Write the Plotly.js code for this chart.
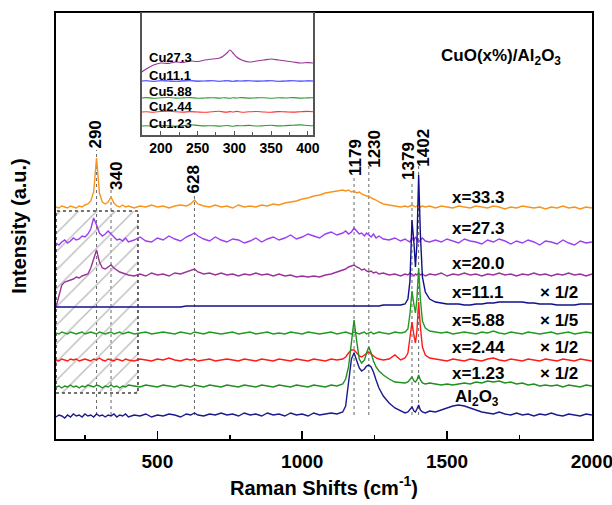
<!DOCTYPE html>
<html><head><meta charset="utf-8">
<script src="https://cdn.plot.ly/plotly-3.0.1.min.js"></script>
<style>body{margin:0;background:#fff}#chart{width:612px;height:505px}</style>
</head><body><div id="chart"></div>
<script>
// ---------- DATA ----------
const ramanShift = [150,160,170,180,190,200,210,220,230,240,250,260,270,280,290,300,310,320,330,340,350,360,370,380,390,400,
420,440,460,480,500,520,540,560,580,600,615,628,640,
660,680,700,720,740,760,780,800,820,840,860,880,900,920,940,960,980,1000,1020,1040,1060,1080,1100,1120,1140,
1150,1160,1170,1179,1188,1197,1205,1215,1222,1230,1238,1246,1255,1265,1280,1300,1320,1340,
1355,1365,1372,1379,1386,1391,1396,1402,1408,1415,1425,1440,
1460,1480,1500,1520,1540,1560,1580,1600,1620,1640,1660,1680,1700,1720,1740,1760,1780,1800,1820,1840,1860,1880,1900,1920,1940,1960,1980,2000];

const cu33_3 = [232,231,233,232,231,233,232,231,233,232,234,235,238,247,281,246,237,235,237,242,236,233,232,234,232,233,
231,233,232,234,232,233,231,233,234,233,235,239,235,
233,232,234,232,233,231,234,232,233,232,234,233,235,234,236,237,238,240,241,243,244,246,247,248,249,
248,249,247,248,246,247,245,244,243,243,241,240,239,237,235,234,233,232,
233,232,233,234,233,232,233,234,232,233,232,233,
231,233,232,231,233,232,231,233,232,231,233,232,230,232,231,233,232,231,232,230,232,231,233,231,232,230,232,231];

const cu27_3 = [196,194,197,199,196,198,201,199,200,203,202,205,210,221,214,206,203,205,208,205,203,199,200,198,201,197,
199,202,198,197,201,199,203,200,198,202,204,206,203,
200,198,202,199,197,200,199,196,198,201,197,200,202,199,201,204,200,202,205,203,201,205,207,204,206,
208,205,207,211,208,205,206,203,206,204,202,205,201,203,200,199,201,198,
200,198,197,201,199,202,200,197,199,201,198,197,
199,197,200,198,196,200,198,197,195,199,197,200,198,195,198,196,199,197,194,198,197,195,199,196,194,198,196,197];

const cu20_0 = [132,144,154,157,158,159,160,162,161,163,164,165,171,180,189,177,171,170,172,174,171,169,167,166,165,164,
163,165,163,166,164,165,163,166,165,167,168,170,167,
165,166,164,166,164,165,163,165,164,166,164,165,163,165,163,164,162,163,162,163,162,164,165,167,169,
170,172,173,174,172,171,169,170,168,167,168,166,167,165,166,164,165,163,
165,164,166,165,163,165,164,166,164,165,163,165,
164,166,163,165,164,166,164,165,163,165,164,166,164,165,163,165,164,166,164,165,163,165,164,166,164,165,163,165];

const cu11_1 = [132,132,132,132,132,132,132,132,132,132,132,132,132,132,132,132,132,132,132,132,132,132,132,132,132,132,
132,132,132,132,132,132,132,132,132,133,133,133,133,
133,133,133,133,133,133,133,133,133,133,133,133,133,133,133,133,133,133,133,133,133,133,133,133,133,
133,133,133,133,133,133,133,133,133,133,133,133,133,133,134,134,134,134,
135,140,158,219,195,172,195,264,205,162,147,140,
137,136,135,135,135,134,134,135,135,136,136,137,137,137,137,137,136,136,135,135,135,134,134,134,134,135,135,135];

const cu5_88 = [106,105,107,106,105,107,106,105,106,107,105,106,107,106,105,107,106,105,106,107,105,106,107,105,106,107,
105,106,107,105,106,107,106,105,107,106,105,107,106,
105,107,106,105,106,107,105,106,107,105,106,107,105,106,105,107,106,105,107,106,105,106,107,105,106,
107,106,105,107,106,105,106,107,105,106,107,105,106,107,106,105,107,106,
107,110,125,148,134,126,140,171,140,118,111,108,
107,106,107,105,106,107,106,105,107,106,108,106,105,107,106,105,107,106,105,106,107,105,106,107,105,106,107,106];

const cu2_44 = [79,78,80,79,78,80,79,80,78,79,80,79,78,80,79,81,79,78,80,79,78,80,79,78,80,79,
78,80,79,78,80,79,81,79,78,80,79,80,78,
79,80,78,79,80,79,78,80,79,78,80,79,78,80,79,78,80,79,78,80,79,78,80,79,80,
82,86,89,89,86,83,82,84,86,87,85,83,81,80,79,80,84,79,
81,86,100,117,103,96,108,137,112,92,84,81,
80,79,78,80,79,78,80,79,78,80,81,79,78,80,79,78,80,79,78,80,79,78,80,79,78,80,79,78];

const cu1_23 = [52,53,51,53,52,54,52,53,51,53,52,54,53,52,54,53,51,53,52,54,52,53,51,53,52,54,
53,52,54,53,52,54,53,52,54,53,52,54,53,
52,54,53,52,54,53,52,54,53,52,54,53,52,54,53,52,54,53,52,54,53,52,54,53,55,
60,72,98,119,98,80,76,79,86,92,86,78,72,68,64,60,57,56,
56,57,59,62,58,57,59,64,59,56,55,56,
55,54,55,54,55,56,55,57,56,58,57,58,56,57,55,56,54,55,53,54,53,54,52,54,53,52,54,53];

const al2o3 = [22,24,23,21,24,22,25,23,24,22,25,23,24,22,25,23,24,22,24,23,25,22,24,23,25,22,
24,23,25,22,24,23,25,24,22,25,24,26,24,
23,25,24,26,24,25,23,26,24,25,23,26,24,25,23,26,24,25,23,26,24,25,26,25,27,
33,55,80,86,79,71,68,70,73,74,72,67,59,51,43,36,31,28,
26,27,29,32,28,27,30,34,29,27,26,28,
27,29,31,33,34,33,31,29,27,26,25,27,25,24,26,24,25,23,25,24,26,24,23,25,24,23,25,24];

const seriesLabels = ["x=33.3","x=27.3","x=20.0","x=11.1","x=5.88","x=2.44","x=1.23","Al<sub>2</sub>O<sub>3</sub>"];
const scaleLabels = ["","","","× 1/2","× 1/5","× 1/2","× 1/2",""];
const peakPositions = [290,340,628,1179,1230,1379,1402];

// inset
const insetShift = [174,180,190,200,210,220,230,240,250,260,270,280,285,290,294,298,303,310,320,330,340,350,360,370,380,390,400,407];
const insetCu27_3 = [63,66,70,72,71.6,73,72.6,74,73.5,75,76,77,79,82,85,82,78,75,73,74,75,76,75,74,73,72,72.4,72];
const insetCu11_1 = [54,54.3,53.8,54.2,54,53.7,54.1,54.3,53.9,54,54.2,53.8,54,54.3,54,53.7,54.1,54,54.2,53.9,54,54.3,53.8,54,54.2,53.9,54.1,54];
const insetCu5_88 = [37,37.4,36.8,37.2,37.5,36.9,37.1,37.4,36.8,37,37.3,36.9,37.2,37,36.8,37.3,37,37.4,36.9,37.1,37.3,36.8,37.2,37,37.4,36.9,37.1,37.2];
const insetCu2_44 = [23,23.3,22.8,23.5,23.9,23.2,22.9,23.4,23,22.7,23.3,23.8,23.1,22.9,23.4,23,23.6,22.8,23.2,23.5,23,22.8,23.4,23.1,22.9,23.3,23.6,23.2];
const insetCu1_23 = [9,9.3,8.8,9.5,9.2,8.9,9.4,10.2,9.6,9.1,9.3,8.9,9.2,9.5,9.1,8.8,9.4,9.2,9.6,9,9.3,9.7,9.1,9.4,9.8,10.1,9.5,9.2];
const insetLabels = ["Cu27.3","Cu11.1","Cu5.88","Cu2.44","Cu1.23"];

// ---------- STYLE / LAYOUT ----------
const FONT = "Liberation Sans, Arial, Helvetica, sans-serif";
const mainSeries = [cu33_3, cu27_3, cu20_0, cu11_1, cu5_88, cu2_44, cu1_23, al2o3];
const mainColors = ["#f7941d","#9b3df2","#993399","#10108c","#229a22","#ff1a1a","#1f8f1f","#1a1a8e"];
const labelY = [242,211,176,147,119,92,66,41];

const insetSeries = [insetCu27_3, insetCu11_1, insetCu5_88, insetCu2_44, insetCu1_23];
const insetColors = ["#993399","#3333ff","#339933","#ff3333","#339933"];
const insetLabelY = [78,60,44,29,12];

// hatched dotted box region
const box = {x0:150, x1:433, y0:46, y1:228};
const traces = [{
  x:[box.x0,box.x1,box.x1,box.x0,box.x0], y:[box.y0,box.y0,box.y1,box.y1,box.y0],
  mode:"lines", fill:"toself", fillcolor:"rgba(0,0,0,0)",
  fillpattern:{shape:"/", fgcolor:"#b8b8b8", bgcolor:"rgba(255,255,255,0)", size:13, solidity:0.1},
  line:{color:"#444", width:1.6, dash:"dot"}, xaxis:"x", yaxis:"y", hoverinfo:"skip"
}];
mainSeries.forEach((s,i)=>traces.push({x:ramanShift, y:s, mode:"lines",
  line:{color:mainColors[i], width:1.4}, xaxis:"x", yaxis:"y"}));
insetSeries.forEach((s,i)=>traces.push({x:insetShift, y:s, mode:"lines",
  line:{color:insetColors[i], width:1.1, shape:"spline"}, xaxis:"x2", yaxis:"y2"}));

// peak label vertical positions and nudges
const peakLabelY = [304,263,260,281,290,278,291];
const peakLabelShift = [-2,5,-1,1,5,-4,4];
const peakLineTop = [289,249,246,261,274,258,274];
const shapes = peakPositions.map((p,i)=>({type:"line", xref:"x", yref:"y",
  x0:p, x1:p, y0:24, y1:peakLineTop[i], line:{color:"#666", width:1, dash:"dot"}, layer:"below"}));

const annotations = [];
peakPositions.forEach((p,i)=>annotations.push({x:p, y:peakLabelY[i], xref:"x", yref:"y",
  text:"<b>"+p+"</b>", textangle:-90, showarrow:false, xshift:peakLabelShift[i],
  font:{family:FONT, size:17, color:"#000"}}));
seriesLabels.forEach((t,i)=>annotations.push({x:i===7?1520:1510, y:labelY[i], xref:"x", yref:"y",
  text:"<b>"+t+"</b>", xanchor:"left", showarrow:false, font:{family:FONT, size:17, color:"#000"}}));
scaleLabels.forEach((t,i)=>{ if(t) annotations.push({x:1815, y:labelY[i], xref:"x", yref:"y",
  text:"<b>"+t+"</b>", xanchor:"left", showarrow:false, font:{family:FONT, size:17, color:"#000"}}); });
annotations.push({x:1472, y:382, xref:"x", yref:"y", xanchor:"left", showarrow:false,
  text:"<b>CuO(x%)/Al<sub>2</sub>O<sub>3</sub></b>", font:{family:FONT, size:17, color:"#000"}});
insetLabels.forEach((t,i)=>annotations.push({x:181, y:insetLabelY[i], xref:"x2", yref:"y2",
  text:"<b>"+t+"</b>", xanchor:"left", showarrow:false, font:{family:FONT, size:13, color:"#000"}}));

const layout = {
  width:612, height:505, margin:{l:56, r:20, t:13, b:66},
  paper_bgcolor:"#fff", plot_bgcolor:"#fff", showlegend:false, hovermode:false,
  font:{family:FONT, color:"#000"},
  xaxis:{domain:[0,1], range:[150,2000.5], showgrid:false, zeroline:false,
    showline:true, mirror:true, linecolor:"#000", linewidth:2,
    ticks:"inside", ticklen:8, tickwidth:1.5, tickcolor:"#000",
    tickmode:"array", tickvals:[500,1000,1500,2000], ticktext:["500","1000","1500","2000"],
    ticklabeloverflow:"allow",
    minor:{tickmode:"array", tickvals:[250,750,1250,1750], ticks:"inside", ticklen:4, tickcolor:"#000", tickwidth:1.5},
    tickfont:{family:FONT, size:19, weight:"bold"}, ticklabelstandoff:4,
    title:{text:"<b>Raman Shifts (cm<sup>-1</sup>)</b>", font:{family:FONT, size:20}, standoff:10}},
  yaxis:{domain:[0,1], range:[0,426], showgrid:false, zeroline:false,
    showline:true, mirror:true, linecolor:"#000", linewidth:2,
    ticks:"", showticklabels:false,
    title:{text:"<b>Intensity (a.u.)</b>", font:{family:FONT, size:20}, standoff:22}},
  xaxis2:{domain:[0.160,0.4795], anchor:"y2", range:[174,407], showgrid:false, zeroline:false,
    showline:true, mirror:true, linecolor:"#555", linewidth:1.5,
    ticks:"inside", ticklen:4, tickcolor:"#555", dtick:50, tick0:0,
    minor:{dtick:25, ticks:"inside", ticklen:3, tickcolor:"#555"},
    tickfont:{family:FONT, size:14, weight:"bold"}},
  yaxis2:{domain:[0.7136,1], anchor:"x2", range:[0,122], showgrid:false, zeroline:false,
    showline:true, mirror:true, linecolor:"#555", linewidth:1.5, ticks:"", showticklabels:false},
  shapes, annotations
};
Plotly.newPlot("chart", traces, layout, {staticPlot:true, displayModeBar:false});
</script></body></html>
